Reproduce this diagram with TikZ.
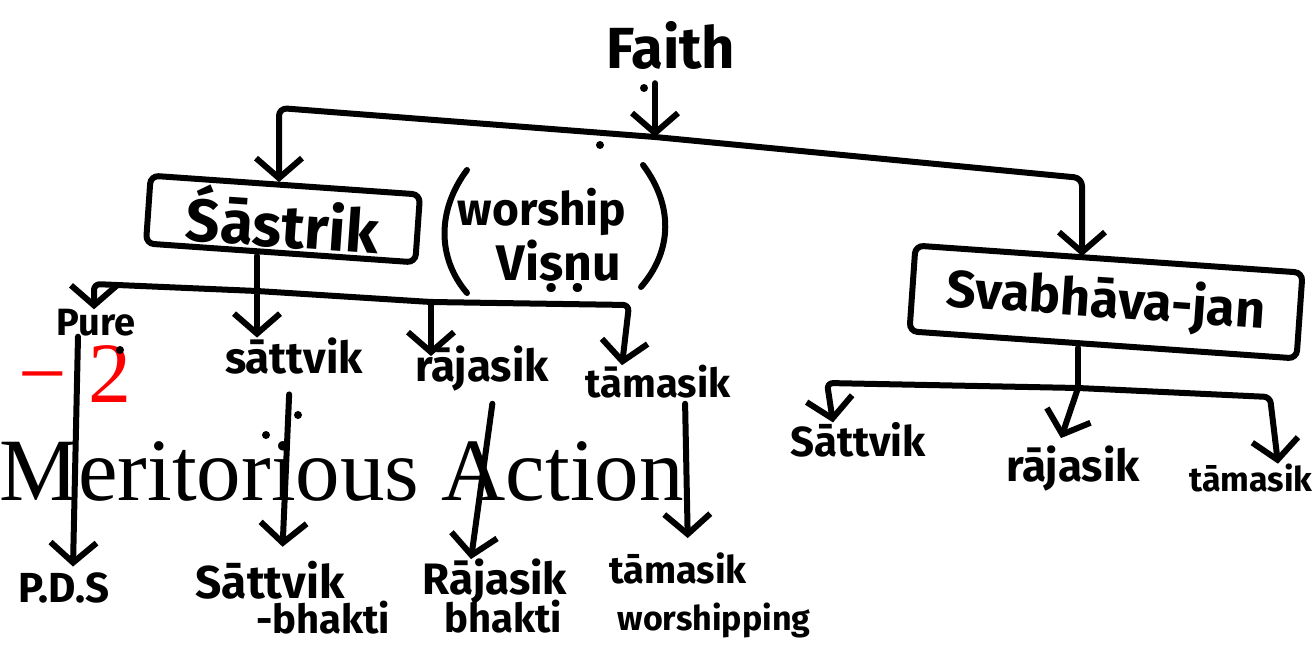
\documentclass[tikz,border=0pt]{standalone}
\usepackage{fontspec}
\setmainfont{Liberation Serif}
\newfontfamily\handfont{Fira Sans}
\usetikzlibrary{arrows.meta,calc}
\newcommand{\fsz}[1]{\fontsize{#1}{#1}\selectfont}
\tikzset{
  ink/.style={line width=6pt, line cap=round, line join=round},
  arr/.style={ink, -{Straight Barb[length=20pt,width=46pt]}},
  hw/.style={inner sep=0pt, font=\handfont\bfseries\fsz{#1}},
  hbox/.style={draw, line width=6pt, rounded corners=8pt, rotate=-4},
  typed/.style={inner sep=0pt, anchor=base west},
  inkdot/.style={circle, fill, inner sep=0pt, minimum size=8pt},
}
\begin{document}
\begin{tikzpicture}[x=1pt,y=-1pt]
\useasboundingbox (0,0) rectangle (1314,653);
\clip (0,0) rectangle (1314,653);
% typed text
\node[typed, font=\fsz{86}, text=red] (minustwo) at (18,402) {−\hspace{22pt}2};
\node[typed, font=\fsz{89}] (merit) at (-1,500) {Meritorious Action};
% top level
\node[hw=58] (faith) at (671,45) {Faith};
\node[hbox, hw=60, minimum width=270pt, minimum height=68pt] (sastrik) at (283,219) {Śāstrik};
\node[hbox, hw=52, minimum width=388pt, minimum height=86pt] (svabhava) at (1106,302) {Svabhāva-jan};
\node[hw=46] (worship) at (542,212) {worship};
\node[hw=50] (vishnu) at (559,266) {Viṣṇu};
\draw[ink] (467,170) .. controls (437,210) and (437,258) .. (467,293);
\draw[ink] (643,165) .. controls (673,205) and (673,250) .. (641,287);
% second row labels
\node[hw=38] (pure) at (96,323) {Pure};
\node[hw=44] (sattvik) at (294,356) {sāttvik};
\node[hw=44] (rajasik) at (482,369) {rājasik};
\node[hw=40] (tamasik) at (658,382) {tāmasik};
% third row labels
\node[hw=42] (pds) at (64,588) {P.D.S};
\node[hw=46] (sattvikb) at (270,580) {Sāttvik};
\node[hw=40] (sattvikc) at (323,618) {-bhakti};
\node[hw=44] (rajasikb) at (495,582) {Rājasik};
\node[hw=40] (rajasikc) at (503,617) {bhakti};
\node[hw=38] (tamasikb) at (678,568) {tāmasik};
\node[hw=34] (tamasikc) at (714,620) {worshipping};
% right labels
\node[hw=42] (sattvikr) at (858,440) {Sāttvik};
\node[hw=44] (rajasikr) at (1073,469) {rājasik};
\node[hw=34] (tamasikr) at (1251,478) {tāmasik};
% dots
\node[inkdot] (d1) at (644,88) {};
\node[inkdot] (d2) at (600,145) {};
\node[inkdot] (d3) at (298,415) {};
\node[inkdot] (d4) at (266,435) {};
\node[inkdot] (d5) at (120,350) {};
% top connectors
\coordinate (tl) at (279,108);
\coordinate (tj) at (655,137);
\coordinate (tr) at (1082,178);
\draw[arr, shorten <=14pt] (faith.south -| tj) -- (tj);
\draw[arr, rounded corners=8pt] (tj) -- (tl) -- (tl |- sastrik.north);
\draw[arr, rounded corners=8pt] (tj) -- (tr) -- (tr |- svabhava.north);
% left branch
\coordinate (lp) at (94,284);
\coordinate (lj) at (257,291);
\coordinate (lr) at (431,302);
\coordinate (lt) at (629,305);
\draw[ink] (lj |- sastrik.south) -- (lj);
\draw[arr, rounded corners=6pt] (lj) -- (lp) -- (lp |- pure.north);
\draw[arr] (lj) -- (lj |- sattvik.north);
\draw[arr, rounded corners=6pt] (lj) -- (lr) -- (lt) -- ([xshift=-7pt]lt |- tamasik.north);
\draw[arr, shorten >=-10pt] (lr) -- (lr |- rajasik.north);
% third row connectors
\draw[arr] ([xshift=-18pt]pure.south) -- ([xshift=9pt,yshift=6pt]pds.north);
\draw[arr, shorten <=20pt, shorten >=14pt] ([xshift=-4pt]sattvik.south) -- ([xshift=12pt]sattvikb.north);
\draw[arr, shorten <=12pt] ([xshift=12pt]rajasik.south) -- ([xshift=-24pt]rajasikb.north);
\draw[arr, shorten <=5pt, shorten >=14pt] ([xshift=27pt]tamasik.south) -- ([xshift=10pt]tamasikb.north);
% right branch
\coordinate (rj) at (1078,388);
\coordinate (rl) at (827,383);
\coordinate (rr) at (1270,397);
\draw[ink] (rj |- svabhava.south) -- (rj);
\draw[arr, rounded corners=6pt] (rj) -- (rl) -- ([xshift=6pt]rl |- sattvikr.north);
\draw[arr] (rj) -- ([xshift=-12pt,yshift=8pt]rajasikr.north);
\draw[arr, rounded corners=6pt] (rj) -- (rr) -- ([xshift=8pt]rr |- tamasikr.north);
\end{tikzpicture}
\end{document}
